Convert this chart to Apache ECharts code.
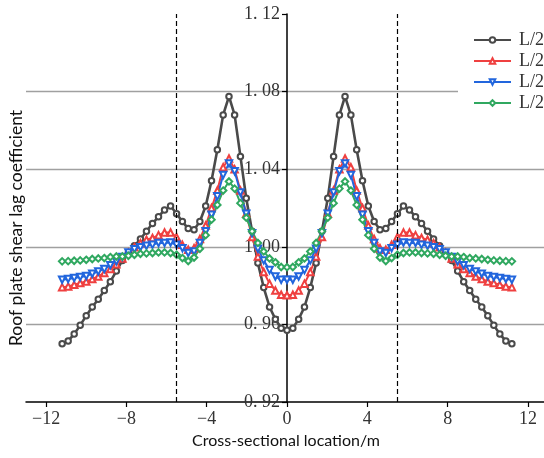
<!DOCTYPE html>
<html>
<head>
<meta charset="utf-8">
<script src="https://cdn.jsdelivr.net/npm/echarts@6/dist/echarts.min.js"></script>
<style>html,body{margin:0;padding:0;background:#fff}#c{width:544px;height:458px}</style>
</head>
<body>
<div id="c"></div>
<script>
// Cross-sectional locations (m)
var locations = [-11.20, -10.90, -10.60, -10.30, -10.00, -9.70, -9.40, -9.10, -8.80, -8.50, -8.20, -7.90, -7.60, -7.30, -7.00, -6.70, -6.40, -6.10, -5.80,
  -5.50, -5.21, -4.92, -4.63, -4.34, -4.05, -3.76, -3.47, -3.18, -2.89, -2.61, -2.32, -2.03, -1.74, -1.45, -1.16, -0.87, -0.58, -0.29,
  0,
  0.29, 0.58, 0.87, 1.16, 1.45, 1.74, 2.03, 2.32, 2.61, 2.89, 3.18, 3.47, 3.76, 4.05, 4.34, 4.63, 4.92, 5.21, 5.50,
  5.80, 6.10, 6.40, 6.70, 7.00, 7.30, 7.60, 7.90, 8.20, 8.50, 8.80, 9.10, 9.40, 9.70, 10.00, 10.30, 10.60, 10.90, 11.20];

var seriesNames = ['L/2 case 1', 'L/2 case 2', 'L/2 case 3', 'L/2 case 4'];

var blackValues = [0.950, 0.9515, 0.955, 0.9595, 0.9645, 0.969, 0.973, 0.9775, 0.982, 0.9875, 0.993, 0.997, 1.0005, 1.004, 1.008, 1.012, 1.0155, 1.019, 1.021,
  1.017, 1.013, 1.0094, 1.0088, 1.013, 1.021, 1.034, 1.050, 1.068, 1.0775, 1.068, 1.0466, 1.025, 1.008, 0.9916, 0.979, 0.969, 0.9627, 0.958,
  0.957,
  0.958, 0.9627, 0.969, 0.979, 0.9916, 1.008, 1.025, 1.0466, 1.068, 1.0775, 1.068, 1.050, 1.034, 1.021, 1.013, 1.0088, 1.0094, 1.013, 1.017,
  1.021, 1.019, 1.0155, 1.012, 1.008, 1.004, 1.0005, 0.997, 0.993, 0.9875, 0.982, 0.9775, 0.973, 0.969, 0.9645, 0.9595, 0.955, 0.9515, 0.950];

var redValues = [0.9792, 0.9796, 0.9804, 0.9813, 0.9821, 0.9834, 0.9847, 0.9865, 0.9885, 0.991, 0.994, 0.997, 0.9998, 1.0019, 1.0036, 1.0045, 1.006, 1.0074, 1.0074,
  1.005, 1.001, 0.9985, 0.9993, 1.004, 1.011, 1.020, 1.029, 1.041, 1.0455, 1.040, 1.029, 1.017, 1.005, 0.995, 0.987, 0.981, 0.9775, 0.9753,
  0.975,
  0.9753, 0.9775, 0.981, 0.987, 0.995, 1.005, 1.017, 1.029, 1.040, 1.0455, 1.041, 1.029, 1.020, 1.011, 1.004, 0.9993, 0.9985, 1.001, 1.005,
  1.0074, 1.0074, 1.006, 1.0045, 1.0036, 1.0019, 0.9998, 0.997, 0.994, 0.991, 0.9885, 0.9865, 0.9847, 0.9834, 0.9821, 0.9813, 0.9804, 0.9796, 0.9792];

var blueValues = [0.983, 0.9834, 0.9839, 0.9844, 0.985, 0.9861, 0.9873, 0.9885, 0.9905, 0.9925, 0.9948, 0.9971, 0.9988, 0.9998, 1.0005, 1.001, 1.002, 1.002, 1.0022,
  1.001, 0.9993, 0.9968, 0.9976, 1.002, 1.008, 1.0165, 1.026, 1.037, 1.043, 1.039, 1.028, 1.017, 1.007, 0.999, 0.993, 0.988, 0.9847, 0.983,
  0.983,
  0.983, 0.9847, 0.988, 0.993, 0.999, 1.007, 1.017, 1.028, 1.039, 1.043, 1.037, 1.026, 1.0165, 1.008, 1.002, 0.9976, 0.9968, 0.9993, 1.001,
  1.0022, 1.002, 1.002, 1.001, 1.0005, 0.9998, 0.9988, 0.9971, 0.9948, 0.9925, 0.9905, 0.9885, 0.9873, 0.9861, 0.985, 0.9844, 0.9839, 0.9834, 0.983];

var greenValues = [0.9925, 0.9926, 0.9928, 0.993, 0.9933, 0.9937, 0.994, 0.9942, 0.9947, 0.995, 0.995, 0.9954, 0.9959, 0.9964, 0.9966, 0.9968, 0.9971, 0.9971, 0.9968,
  0.9959, 0.9942, 0.9927, 0.9945, 0.999, 1.006, 1.014, 1.0216, 1.029, 1.0337, 1.030, 1.0225, 1.015, 1.008, 1.002, 0.9976, 0.994, 0.992, 0.9896,
  0.9895,
  0.9896, 0.992, 0.994, 0.9976, 1.002, 1.008, 1.015, 1.0225, 1.030, 1.0337, 1.029, 1.0216, 1.014, 1.006, 0.999, 0.9945, 0.9927, 0.9942, 0.9959,
  0.9968, 0.9971, 0.9971, 0.9968, 0.9966, 0.9964, 0.9959, 0.9954, 0.995, 0.995, 0.9947, 0.9942, 0.994, 0.9937, 0.9933, 0.993, 0.9928, 0.9926, 0.9925];

var xTicks = [-12, -8, -4, 0, 4, 8, 12];
var webLines = [-5.5, 5.5];

function pairs(ys) { return locations.map(function (x, i) { return [x, ys[i]]; }); }

var serifFont = '"Liberation Serif", "DejaVu Serif", serif';
var sansFont = 'Lato, "Open Sans", sans-serif';

var GRID_LEFT = 26, GRID_WIDTH = 518, X_MIN = -13, X_MAX = 12.8;
// offset that moves the y axis onto x = 0
var Y_OFFSET = -GRID_WIDTH * (0 - X_MIN) / (X_MAX - X_MIN);

function mkSeries(name, ys, color, symbol, size, lw, rotate) {
  return {
    name: name, type: 'line', data: pairs(ys),
    symbol: symbol, symbolSize: size, symbolRotate: rotate || 0,
    showAllSymbol: true,
    lineStyle: { color: color, width: lw },
    itemStyle: { color: color, borderColor: color, borderWidth: 1 },
    emphasis: { disabled: true },
    animation: false
  };
}

var series = [
  mkSeries(seriesNames[0], blackValues, '#4a4a4a', 'emptyCircle', 5.5, 2.6),
  mkSeries(seriesNames[1], redValues, '#ef4040', 'emptyTriangle', 6.5, 2),
  mkSeries(seriesNames[2], blueValues, '#2266dd', 'emptyTriangle', 6.5, 2, 180),
  mkSeries(seriesNames[3], greenValues, '#30a860', 'emptyDiamond', 6.5, 2)
];
series[0].markLine = {
  silent: true, symbol: ['none', 'none'], label: { show: false },
  lineStyle: { color: '#000', type: [5, 3], width: 1.2 },
  data: webLines.map(function (v) { return { xAxis: v }; }),
  animation: false
};

var chart = echarts.init(document.getElementById('c'), null, { renderer: 'canvas' });
chart.setOption({
  animation: false,
  backgroundColor: '#fff',
  grid: { left: GRID_LEFT, width: GRID_WIDTH, top: 14, height: 388, containLabel: false, outerBoundsMode: 'none' },
  xAxis: {
    type: 'value', min: X_MIN, max: X_MAX,
    axisLine: { onZero: false, lineStyle: { color: '#000', width: 1.5 } },
    axisTick: { show: true, length: 5, customValues: xTicks, lineStyle: { color: '#000', width: 1.2 } },
    axisLabel: {
      customValues: xTicks, margin: 8, color: '#333', fontSize: 18, fontFamily: serifFont,
      formatter: function (v) { return String(v).replace('-', '\u2212'); }
    },
    splitLine: { show: false }
  },
  yAxis: {
    type: 'value', min: 0.92, max: 1.12, interval: 0.04,
    position: 'left', offset: Y_OFFSET,
    axisLine: { show: true, onZero: false, lineStyle: { color: '#000', width: 1.5 } },
    axisTick: { show: true, length: 5, lineStyle: { color: '#000', width: 1.2 } },
    axisLabel: {
      margin: 7, color: '#333', fontSize: 18, fontFamily: serifFont,
      formatter: function (v) { return v.toFixed(2).replace('.', '. '); }
    },
    splitLine: { show: true, showMinLine: false, showMaxLine: false, lineStyle: { color: '#a0a0a0', width: 1.4 } }
  },
  legend: {
    orient: 'vertical', left: 458, top: 27,
    padding: [4, 0, 4, 15],
    backgroundColor: '#fff',
    itemWidth: 37, itemHeight: 7, itemGap: 3,
    textStyle: { fontSize: 18, fontFamily: serifFont, color: '#333', padding: [0, 0, 0, 3], lineHeight: 18 },
    data: seriesNames
  },
  graphic: [
    { type: 'text', x: 286, y: 441, style: { text: 'Cross-sectional location/m', font: '16px ' + sansFont, fill: '#111', textAlign: 'center', textVerticalAlign: 'middle' } },
    { type: 'text', x: 16, y: 228, rotation: Math.PI / 2, style: { text: 'Roof plate shear lag coefficient', font: '17.5px ' + sansFont, fill: '#111', textAlign: 'center', textVerticalAlign: 'middle' } }
  ],
  series: series
});
</script>
</body>
</html>
